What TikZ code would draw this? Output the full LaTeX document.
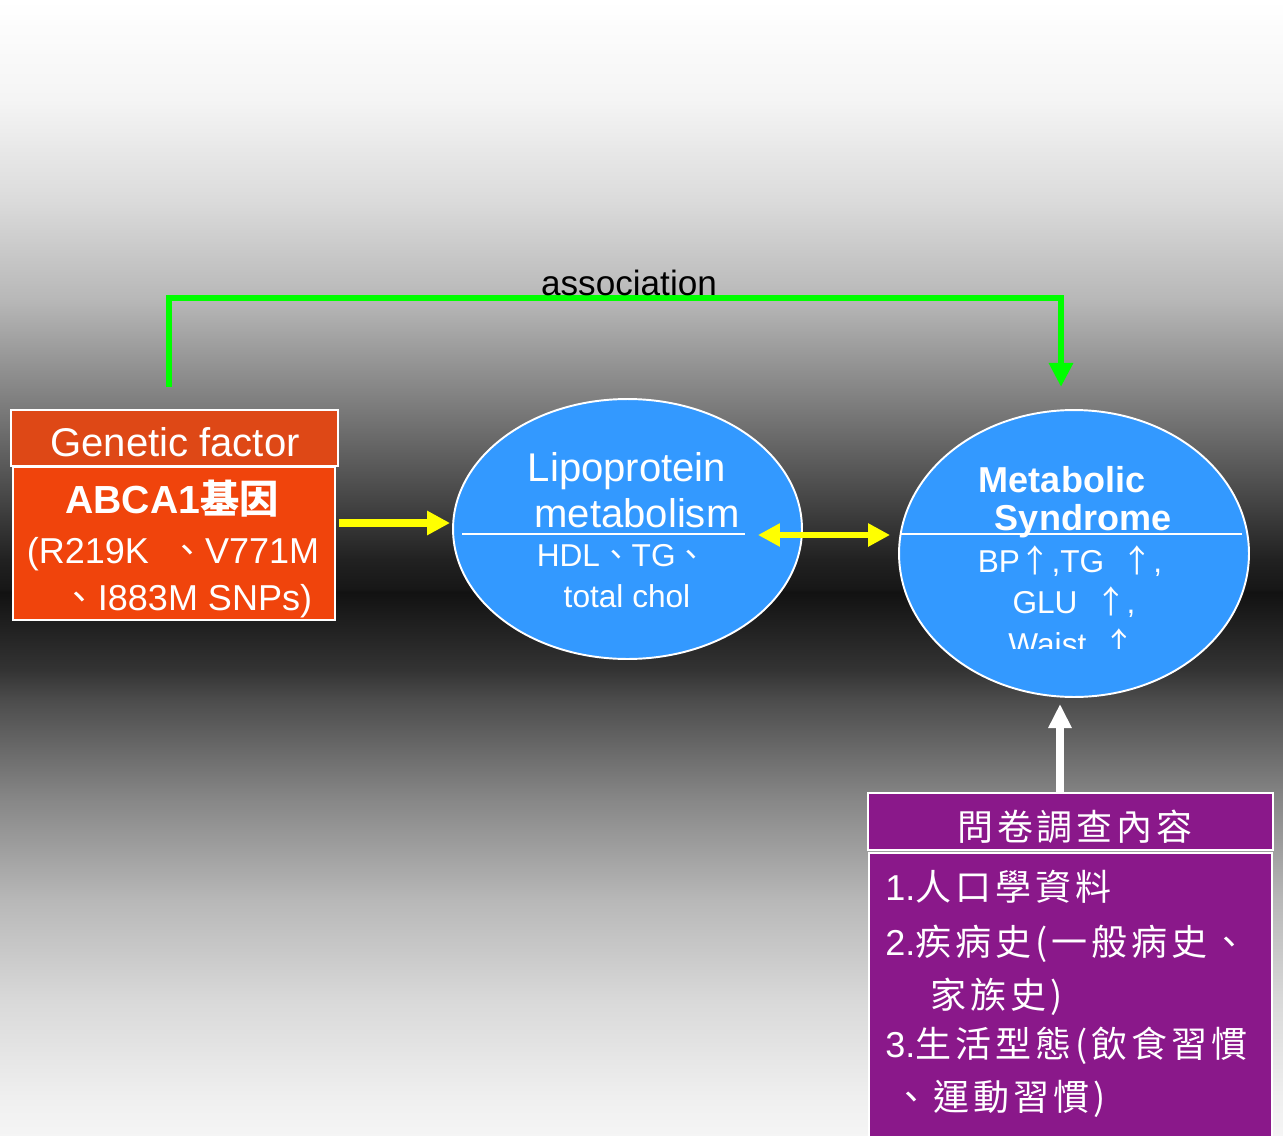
\documentclass[tikz,border=0pt]{standalone}
\usepackage{fontspec}
\usepackage{tikz}
\usetikzlibrary{shapes.geometric, arrows.meta, positioning, calc}
\setmainfont{Liberation Sans}
\newfontfamily\cjk{Noto Sans CJK TC}
\newfontfamily\cjkwide{Noto Sans CJK TC}[LetterSpace=11]
\definecolor{gfhdrfill}{RGB}{222,72,22}
\definecolor{gfbodyfill}{RGB}{240,68,12}
\definecolor{bubbleblue}{RGB}{51,153,255}
\definecolor{qfill}{RGB}{138,24,138}
\definecolor{assocgreen}{RGB}{0,255,0}
\definecolor{linkyellow}{RGB}{255,255,0}
% the path fills the middle 25bp--75bp of the shading
\pgfdeclareverticalshading{slidebg}{100bp}{color(0bp)=(black!4); color(25bp)=(black!4);
  color(26.55bp)=(black!6); color(30.95bp)=(black!15); color(35.35bp)=(black!28);
  color(39.75bp)=(black!47); color(44.15bp)=(black!70); color(45.5bp)=(black!80);
  color(48.9bp)=(black!93); color(49.1bp)=(black!91); color(50.35bp)=(black!87);
  color(52.95bp)=(black!73); color(57.4bp)=(black!50); color(61.8bp)=(black!28);
  color(66.2bp)=(black!14); color(70.6bp)=(black!4); color(75bp)=(white); color(100bp)=(white)}
\tikzset{
  slidetext/.style={text=white, inner sep=0pt, anchor=base},
  bigtext/.style={slidetext, font=\fontsize{22.8}{27}\selectfont},
  midtext/.style={slidetext, font=\fontsize{20.5}{24}\selectfont},
  smalltext/.style={slidetext, font=\fontsize{18}{22}\selectfont},
  boldtext/.style={slidetext, font=\fontsize{20.5}{24}\selectfont\bfseries},
  genetext/.style={slidetext, font=\fontsize{22.3}{26}\selectfont\bfseries},
  qtext/.style={slidetext, anchor=base west, font=\fontsize{20.5}{24}\selectfont},
  assoclabel/.style={text=black, inner sep=0pt, anchor=base, font=\fontsize{20}{24}\selectfont},
  gfbox/.style={rectangle, draw=white, line width=0.8pt, inner sep=0pt},
  qbox/.style={rectangle, draw=white, fill=qfill, line width=0.8pt, inner sep=0pt},
  bubble/.style={ellipse, draw=white, fill=bubbleblue, line width=1.1pt, inner sep=0pt},
  divider/.style={white, line width=0.6pt},
  greenarrow/.style={draw=assocgreen, line width=3.7pt, -{Triangle[width=13.1pt,length=13.7pt]}},
  yellowarrow/.style={draw=linkyellow, line width=4.4pt, -{Triangle[width=13.1pt,length=13.1pt]}},
  yellowboth/.style={draw=linkyellow, line width=3.8pt, {Triangle[width=12.5pt,length=12.5pt]}-{Triangle[width=12.5pt,length=12.5pt]}},
  whitearrow/.style={draw=white, line width=4.6pt, -{Triangle[width=12.5pt,length=13.7pt]}}
}
\begin{document}
\begin{tikzpicture}[x=0.02cm, y=-0.02cm]
  \useasboundingbox (0,0) rectangle (1283,1135);
  \shade[shading=slidebg] (0,0) rectangle (1283,1135);

  % association loop
  \coordinate (gl) at (169,387);
  \coordinate (gr) at (1061,387);
  \coordinate (gtop) at (0,298);
  \draw[greenarrow] (gl) |- (gtop -| gr) -- (gr);
  \node[assoclabel] (assoc) at (629,295) {association};

  % genetic factor
  \node[gfbox, fill=gfhdrfill, minimum width=6.54cm, minimum height=1.12cm] (gfhdr) at (174.5,438) {};
  \node[gfbox, fill=gfbodyfill, minimum width=6.44cm, minimum height=3.06cm] (gfbody) at (174,543.5) {};
  \node[bigtext] (gflabel) at (175,456) {Genetic factor};
  \node[genetext] (gfgene) at (172,513) {ABCA1{\cjk 基因}};
  \node[midtext] (gfsnpa) at (173,563) {(R219K\ \ {\cjk 、}V771M};
  \node[midtext] (gfsnpb) at (187,610) {{\cjk 、}I883M SNPs)};

  % lipoprotein metabolism
  \node[bubble, minimum width=6.98cm, minimum height=5.2cm] (lipo) at (627.5,529) {};
  \draw[divider] (462,534) -- (745,534);
  \node[bigtext] (lipoa) at (627,481) {Lipoprotein};
  \node[bigtext] (lipob) at (637,527) {metabolism};
  \node[smalltext] (lipoc) at (622,566) {HDL{\cjk 、}TG{\cjk 、}};
  \node[smalltext] (lipod) at (627,607) {total chol};

  % metabolic syndrome
  \node[bubble, minimum width=7cm, minimum height=5.74cm] (ms) at (1074,553.5) {};
  \draw[divider] (901,534) -- (1242,534);
  \node[boldtext] (msa) at (1062,492) {Metabolic};
  \node[boldtext] (msb) at (1083,530) {Syndrome};
  \node[smalltext] (msc) at (1070,572) {BP{\cjk ↑},TG\ \ {\cjk ↑},};
  \node[smalltext] (msd) at (1074,613) {GLU\ \ {\cjk ↑},};
  \begin{scope}
    \clip (899,600) rectangle (1250,648);
    \node[smalltext] (mse) at (1072,655) {Waist\ \ {\cjk ↑}};
  \end{scope}

  % questionnaire
  \node[qbox, minimum width=8.1cm, minimum height=1.14cm] (qhdr) at (1070.5,821.5) {};
  \node[qbox, minimum width=8.06cm, minimum height=5.74cm] (qbody) at (1070.5,996.5) {};
  \node[qtext, anchor=base] (qtitle) at (1075,840) {\cjkwide 問卷調查內容};
  \node[qtext] (qa) at (885,900) {1.{\cjkwide 人口學資料}};
  \node[qtext] (qb) at (885,955) {2.{\cjkwide 疾病史(一般病史、}};
  \node[qtext] (qc) at (930,1008) {\cjkwide 家族史)};
  \node[qtext] (qd) at (885,1057) {3.{\cjkwide 生活型態(飲食習慣}};
  \node[qtext] (qe) at (893,1110) {\cjkwide 、運動習慣)};

  % links
  \coordinate (ylev) at (0,523);
  \coordinate (dlev) at (0,535);
  \coordinate (wcol) at (1060,0);
  \draw[yellowarrow, shorten >=0.04cm] (gfhdr.east |- ylev) -- (lipo.west |- ylev);
  \draw[yellowboth, shorten <=-0.9cm, shorten >=0.16cm] (lipo.east |- dlev) -- (ms.west |- dlev);
  \draw[whitearrow, shorten >=0.12cm] (qhdr.north -| wcol) -- (ms.south -| wcol);
\end{tikzpicture}
\end{document}
